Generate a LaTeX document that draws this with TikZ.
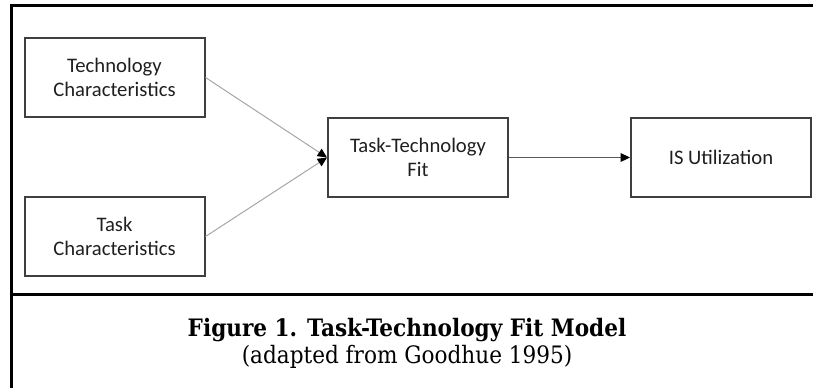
\documentclass[tikz,border=0pt]{standalone}
\usepackage{fontspec}
\setmainfont{Carlito}
\newfontfamily\capfont{DejaVu Serif Condensed}
\usetikzlibrary{arrows.meta}
\definecolor{boxline}{HTML}{3F3F3F}
\definecolor{boxtext}{HTML}{1F1F1F}
\definecolor{feedline}{HTML}{A6A6A6}
\definecolor{outline}{HTML}{595959}
\tikzset{
  modelbox/.style={draw=boxline, line width=1.5pt, minimum width=135pt,
    minimum height=59.25pt, align=center, text=boxtext,
    font=\fontsize{15.5}{18.5}\selectfont, inner sep=0pt},
  tip/.style={-{Triangle[length=7pt,width=6.5pt,color=black]}},
  inflow/.style={tip, draw=feedline, line width=0.75pt},
  outflow/.style={tip, draw=outline, line width=0.75pt},
  frameline/.style={line width=1.6pt, draw=black}
}
\begin{document}
\begin{tikzpicture}[x=0.75pt, y=-0.75pt]
  \useasboundingbox (0,0) rectangle (813,387);
  % outer frame and caption divider
  \draw[frameline] (815,5.5) -- (11.5,5.5) -- (11.5,390);
  \draw[frameline] (11.5,294.5) -- (815,294.5);

  % model boxes
  \node[modelbox] (tech) at (114.5,77.5) {Technology\\Characteristics};
  \node[modelbox] (task) at (114.5,236.5) {Task\\Characteristics};
  \node[modelbox] (ttf)  at (418,157.5) {Task-Technology\\Fit};
  \node[modelbox] (use)  at (721,157.5) {IS Utilization};

  % connectors
  \draw[inflow] (tech.east) -- (ttf.west);
  \draw[inflow] (task.east) -- (ttf.west);
  \draw[outflow] (ttf.east) -- (use.west);

  % caption
  \node[anchor=base, font=\capfont\bfseries\fontsize{18}{22}\selectfont] (title) at (407,336) {Figure 1. Task-Technology Fit Model};
  \node[anchor=base, font=\capfont\fontsize{18}{22}\selectfont] (source) at (407,363) {(adapted from Goodhue 1995)};
\end{tikzpicture}
\end{document}
